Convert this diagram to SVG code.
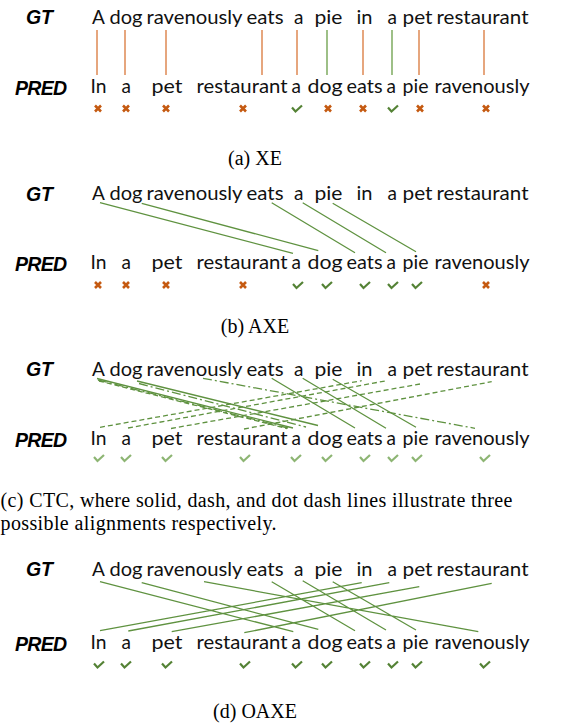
<svg xmlns="http://www.w3.org/2000/svg" xmlns:xlink="http://www.w3.org/1999/xlink" width="586" height="724" viewBox="0 0 586 724">
<style>
.w{font-family:Lato,"Liberation Sans",sans-serif;font-size:19px;fill:#111}
.lab{font-family:"Liberation Sans",Arial,sans-serif;font-weight:bold;font-style:italic;font-size:19.5px;fill:#000}
.cap{font-family:"Liberation Serif","Times New Roman",serif;font-size:20px;fill:#000}
.or{stroke:#D9773A;stroke-width:1.3;fill:none}
.gr{stroke:#5F9240;stroke-width:1.3;fill:none}
.da{stroke-dasharray:5 3}
.dd{stroke-dasharray:9 3 2 3}
</style>
<defs>
<g id="xm"><path d="M-3,-3L3,3M3,-3L-3,3" stroke="#C55A11" stroke-width="2.6" fill="none"/></g>
<g id="ck"><path d="M-5,-1.5L-1.5,2.5L5,-3.5" stroke="#548235" stroke-width="2.2" fill="none"/></g>
<g id="ckl"><path d="M-5,-1.5L-1.5,2.5L5,-3.5" stroke="#8DB573" stroke-width="2.2" fill="none"/></g>
</defs>
<rect width="586" height="724" fill="#fff"/>

<!-- ========== (a) XE ========== -->
<g id="a-labels">
<g id="a-GT"><text class="lab" x="26" y="24" textLength="27">GT</text></g>
<g id="a-PRED"><text class="lab" x="15" y="95" textLength="52">PRED</text></g>
</g>
<g id="a-gt-row">
<g id="a-gt1"><text class="w" x="92" y="23.5">A</text></g>
<g id="a-gt2"><text class="w" x="109.5" y="23.5" textLength="33" lengthAdjust="spacingAndGlyphs">dog</text></g>
<g id="a-gt3"><text class="w" x="146.5" y="23.5" textLength="96" lengthAdjust="spacingAndGlyphs">ravenously</text></g>
<g id="a-gt4"><text class="w" x="246.5" y="23.5" textLength="37" lengthAdjust="spacingAndGlyphs">eats</text></g>
<g id="a-gt5"><text class="w" x="294" y="23.5">a</text></g>
<g id="a-gt6"><text class="w" x="314.5" y="23.5" textLength="28" lengthAdjust="spacingAndGlyphs">pie</text></g>
<g id="a-gt7"><text class="w" x="356.5" y="23.5" textLength="16" lengthAdjust="spacingAndGlyphs">in</text></g>
<g id="a-gt8"><text class="w" x="387.5" y="23.5">a</text></g>
<g id="a-gt9"><text class="w" x="402.5" y="23.5" textLength="30" lengthAdjust="spacingAndGlyphs">pet</text></g>
<g id="a-gt10"><text class="w" x="436.5" y="23.5" textLength="92" lengthAdjust="spacingAndGlyphs">restaurant</text></g>
</g>
<g id="a-pred-row">
<g id="a-pr1"><text class="w" x="90.5" y="93" textLength="16" lengthAdjust="spacingAndGlyphs">In</text></g>
<g id="a-pr2"><text class="w" x="121.5" y="93">a</text></g>
<g id="a-pr3"><text class="w" x="151.5" y="93" textLength="31" lengthAdjust="spacingAndGlyphs">pet</text></g>
<g id="a-pr4"><text class="w" x="196.5" y="93" textLength="91" lengthAdjust="spacingAndGlyphs">restaurant</text></g>
<g id="a-pr5"><text class="w" x="291.5" y="93">a</text></g>
<g id="a-pr6"><text class="w" x="307.5" y="93" textLength="35" lengthAdjust="spacingAndGlyphs">dog</text></g>
<g id="a-pr7"><text class="w" x="346.5" y="93" textLength="36" lengthAdjust="spacingAndGlyphs">eats</text></g>
<g id="a-pr8"><text class="w" x="386.5" y="93">a</text></g>
<g id="a-pr9"><text class="w" x="402.5" y="93" textLength="26" lengthAdjust="spacingAndGlyphs">pie</text></g>
<g id="a-pr10"><text class="w" x="434.5" y="93" textLength="95" lengthAdjust="spacingAndGlyphs">ravenously</text></g>
</g>
<g id="a-connectors">
<path class="or" d="M97,30V75M125,30V75M166,30V75M262,30V75M297,30V75M363,30V75M419,30V75M484,30V75"/>
<path class="gr" d="M327,30V75M392,30V75" style="stroke:#6A9E48"/>
</g>
<g id="a-marks">
<use href="#xm" x="98" y="108.5"/><use href="#xm" x="126" y="108.5"/><use href="#xm" x="166" y="108.5"/><use href="#xm" x="243" y="108.5"/>
<use href="#ck" x="297" y="109"/><use href="#xm" x="328" y="108.5"/><use href="#xm" x="363" y="108.5"/>
<use href="#ck" x="393" y="109"/><use href="#xm" x="420" y="108.5"/><use href="#xm" x="486" y="108.5"/>
</g>
<text class="cap" x="255" y="165" text-anchor="middle">(a) XE</text>

<!-- ========== (b) AXE ========== -->
<g id="b-labels">
<g id="b-GT"><text class="lab" x="26" y="200.5" textLength="27">GT</text></g>
<g id="b-PRED"><text class="lab" x="15" y="271" textLength="52">PRED</text></g>
</g>
<g id="b-gt-row">
<g id="b-gt1"><text class="w" x="92" y="200">A</text></g>
<g id="b-gt2"><text class="w" x="109.5" y="200" textLength="33" lengthAdjust="spacingAndGlyphs">dog</text></g>
<g id="b-gt3"><text class="w" x="146.5" y="200" textLength="96" lengthAdjust="spacingAndGlyphs">ravenously</text></g>
<g id="b-gt4"><text class="w" x="246.5" y="200" textLength="37" lengthAdjust="spacingAndGlyphs">eats</text></g>
<g id="b-gt5"><text class="w" x="294" y="200">a</text></g>
<g id="b-gt6"><text class="w" x="314.5" y="200" textLength="28" lengthAdjust="spacingAndGlyphs">pie</text></g>
<g id="b-gt7"><text class="w" x="356.5" y="200" textLength="16" lengthAdjust="spacingAndGlyphs">in</text></g>
<g id="b-gt8"><text class="w" x="387.5" y="200">a</text></g>
<g id="b-gt9"><text class="w" x="402.5" y="200" textLength="30" lengthAdjust="spacingAndGlyphs">pet</text></g>
<g id="b-gt10"><text class="w" x="436.5" y="200" textLength="92" lengthAdjust="spacingAndGlyphs">restaurant</text></g>
</g>
<g id="b-pred-row">
<g id="b-pr1"><text class="w" x="90.5" y="269" textLength="16" lengthAdjust="spacingAndGlyphs">In</text></g>
<g id="b-pr2"><text class="w" x="121.5" y="269">a</text></g>
<g id="b-pr3"><text class="w" x="151.5" y="269" textLength="31" lengthAdjust="spacingAndGlyphs">pet</text></g>
<g id="b-pr4"><text class="w" x="196.5" y="269" textLength="91" lengthAdjust="spacingAndGlyphs">restaurant</text></g>
<g id="b-pr5"><text class="w" x="291.5" y="269">a</text></g>
<g id="b-pr6"><text class="w" x="307.5" y="269" textLength="35" lengthAdjust="spacingAndGlyphs">dog</text></g>
<g id="b-pr7"><text class="w" x="346.5" y="269" textLength="36" lengthAdjust="spacingAndGlyphs">eats</text></g>
<g id="b-pr8"><text class="w" x="386.5" y="269">a</text></g>
<g id="b-pr9"><text class="w" x="402.5" y="269" textLength="26" lengthAdjust="spacingAndGlyphs">pie</text></g>
<g id="b-pr10"><text class="w" x="434.5" y="269" textLength="95" lengthAdjust="spacingAndGlyphs">ravenously</text></g>
</g>
<g id="b-connectors">
<path class="gr" d="M100,202.7L293,253.3M141.7,203.3L318.3,250.7M271.7,202.7L355,252.7M302.7,202.7L386,252.7M332.7,203.3L416,251.7"/>
</g>
<g id="b-marks">
<use href="#xm" x="98" y="285"/><use href="#xm" x="126" y="285"/><use href="#xm" x="166" y="285"/><use href="#xm" x="243" y="285"/>
<use href="#ck" x="298" y="285.5"/><use href="#ck" x="327" y="285.5"/><use href="#ck" x="365" y="285.5"/><use href="#ck" x="393" y="285.5"/><use href="#ck" x="417" y="285.5"/>
<use href="#xm" x="486" y="285"/>
</g>
<text class="cap" x="255" y="333" text-anchor="middle">(b) AXE</text>

<!-- ========== (c) CTC ========== -->
<g id="c-labels">
<g id="c-GT"><text class="lab" x="26" y="376" textLength="27">GT</text></g>
<g id="c-PRED"><text class="lab" x="15" y="447" textLength="52">PRED</text></g>
</g>
<g id="c-gt-row">
<g id="c-gt1"><text class="w" x="92" y="375.5">A</text></g>
<g id="c-gt2"><text class="w" x="109.5" y="375.5" textLength="33" lengthAdjust="spacingAndGlyphs">dog</text></g>
<g id="c-gt3"><text class="w" x="146.5" y="375.5" textLength="96" lengthAdjust="spacingAndGlyphs">ravenously</text></g>
<g id="c-gt4"><text class="w" x="246.5" y="375.5" textLength="37" lengthAdjust="spacingAndGlyphs">eats</text></g>
<g id="c-gt5"><text class="w" x="294" y="375.5">a</text></g>
<g id="c-gt6"><text class="w" x="314.5" y="375.5" textLength="28" lengthAdjust="spacingAndGlyphs">pie</text></g>
<g id="c-gt7"><text class="w" x="356.5" y="375.5" textLength="16" lengthAdjust="spacingAndGlyphs">in</text></g>
<g id="c-gt8"><text class="w" x="387.5" y="375.5">a</text></g>
<g id="c-gt9"><text class="w" x="402.5" y="375.5" textLength="30" lengthAdjust="spacingAndGlyphs">pet</text></g>
<g id="c-gt10"><text class="w" x="436.5" y="375.5" textLength="92" lengthAdjust="spacingAndGlyphs">restaurant</text></g>
</g>
<g id="c-pred-row">
<g id="c-pr1"><text class="w" x="90.5" y="445" textLength="16" lengthAdjust="spacingAndGlyphs">In</text></g>
<g id="c-pr2"><text class="w" x="121.5" y="445">a</text></g>
<g id="c-pr3"><text class="w" x="151.5" y="445" textLength="31" lengthAdjust="spacingAndGlyphs">pet</text></g>
<g id="c-pr4"><text class="w" x="196.5" y="445" textLength="91" lengthAdjust="spacingAndGlyphs">restaurant</text></g>
<g id="c-pr5"><text class="w" x="291.5" y="445">a</text></g>
<g id="c-pr6"><text class="w" x="307.5" y="445" textLength="35" lengthAdjust="spacingAndGlyphs">dog</text></g>
<g id="c-pr7"><text class="w" x="346.5" y="445" textLength="36" lengthAdjust="spacingAndGlyphs">eats</text></g>
<g id="c-pr8"><text class="w" x="386.5" y="445">a</text></g>
<g id="c-pr9"><text class="w" x="402.5" y="445" textLength="26" lengthAdjust="spacingAndGlyphs">pie</text></g>
<g id="c-pr10"><text class="w" x="434.5" y="445" textLength="95" lengthAdjust="spacingAndGlyphs">ravenously</text></g>
</g>
<g id="c-connectors">
<path class="gr" d="M97,378.5L293,428M137,381L318,425.5M271.7,378.3L355,428M302.7,378.3L386,428.3M332.7,379.3L416,427.3"/>
<path class="gr da" d="M99,381L287,428.5M100,427.3L361.7,380.7M128,428L386.7,380.7M171,428.5L420,384M244,429L491.7,381.7"/>
<path class="gr dd" d="M98,380L290,428.5M139,383.5L306,427M203,378.3L475,428.3"/>
</g>
<g id="c-marks">
<use href="#ckl" x="99" y="458.5"/><use href="#ckl" x="126" y="458.5"/><use href="#ckl" x="167" y="458.5"/><use href="#ckl" x="245" y="458.5"/>
<use href="#ckl" x="296" y="458.5"/><use href="#ckl" x="327" y="458.5"/><use href="#ckl" x="365" y="458.5"/><use href="#ckl" x="393" y="458.5"/><use href="#ckl" x="417" y="458.5"/><use href="#ckl" x="485" y="458.5"/>
</g>
<text class="cap" x="0.5" y="507.3" textLength="512">(c) CTC, where solid, dash, and dot dash lines illustrate three</text>
<text class="cap" x="0.5" y="530" textLength="276">possible alignments respectively.</text>

<!-- ========== (d) OAXE ========== -->
<g id="d-labels">
<g id="d-GT"><text class="lab" x="26" y="576" textLength="27">GT</text></g>
<g id="d-PRED"><text class="lab" x="15" y="650.5" textLength="52">PRED</text></g>
</g>
<g id="d-gt-row">
<g id="d-gt1"><text class="w" x="92" y="576">A</text></g>
<g id="d-gt2"><text class="w" x="109.5" y="576" textLength="33" lengthAdjust="spacingAndGlyphs">dog</text></g>
<g id="d-gt3"><text class="w" x="146.5" y="576" textLength="96" lengthAdjust="spacingAndGlyphs">ravenously</text></g>
<g id="d-gt4"><text class="w" x="246.5" y="576" textLength="37" lengthAdjust="spacingAndGlyphs">eats</text></g>
<g id="d-gt5"><text class="w" x="294" y="576">a</text></g>
<g id="d-gt6"><text class="w" x="314.5" y="576" textLength="28" lengthAdjust="spacingAndGlyphs">pie</text></g>
<g id="d-gt7"><text class="w" x="356.5" y="576" textLength="16" lengthAdjust="spacingAndGlyphs">in</text></g>
<g id="d-gt8"><text class="w" x="387.5" y="576">a</text></g>
<g id="d-gt9"><text class="w" x="402.5" y="576" textLength="30" lengthAdjust="spacingAndGlyphs">pet</text></g>
<g id="d-gt10"><text class="w" x="436.5" y="576" textLength="92" lengthAdjust="spacingAndGlyphs">restaurant</text></g>
</g>
<g id="d-pred-row">
<g id="d-pr1"><text class="w" x="90.5" y="648.5" textLength="16" lengthAdjust="spacingAndGlyphs">In</text></g>
<g id="d-pr2"><text class="w" x="121.5" y="648.5">a</text></g>
<g id="d-pr3"><text class="w" x="151.5" y="648.5" textLength="31" lengthAdjust="spacingAndGlyphs">pet</text></g>
<g id="d-pr4"><text class="w" x="196.5" y="648.5" textLength="91" lengthAdjust="spacingAndGlyphs">restaurant</text></g>
<g id="d-pr5"><text class="w" x="291.5" y="648.5">a</text></g>
<g id="d-pr6"><text class="w" x="307.5" y="648.5" textLength="35" lengthAdjust="spacingAndGlyphs">dog</text></g>
<g id="d-pr7"><text class="w" x="346.5" y="648.5" textLength="36" lengthAdjust="spacingAndGlyphs">eats</text></g>
<g id="d-pr8"><text class="w" x="386.5" y="648.5">a</text></g>
<g id="d-pr9"><text class="w" x="402.5" y="648.5" textLength="26" lengthAdjust="spacingAndGlyphs">pie</text></g>
<g id="d-pr10"><text class="w" x="434.5" y="648.5" textLength="95" lengthAdjust="spacingAndGlyphs">ravenously</text></g>
</g>
<g id="d-connectors">
<path class="gr" d="M100,581.7L293.3,631.7M141.7,582.7L318.3,629.3M204,581.7L478.3,631.7M271.7,581.7L355,630.7M302.7,580.7L386,630M332.7,581.7L416,630M100,630.7L361.7,582.7M128.3,631L389.3,582.7M171.7,631.7L419.3,586.7M244.3,632.7L491.7,583.3"/>
</g>
<g id="d-marks">
<use href="#ck" x="99" y="665"/><use href="#ck" x="126" y="665"/><use href="#ck" x="167" y="665"/><use href="#ck" x="245" y="665"/>
<use href="#ck" x="297" y="665"/><use href="#ck" x="327" y="665"/><use href="#ck" x="365" y="665"/><use href="#ck" x="393" y="665"/><use href="#ck" x="417" y="665"/><use href="#ck" x="485" y="665"/>
</g>
<text class="cap" x="255" y="718" text-anchor="middle">(d) OAXE</text>
</svg>
